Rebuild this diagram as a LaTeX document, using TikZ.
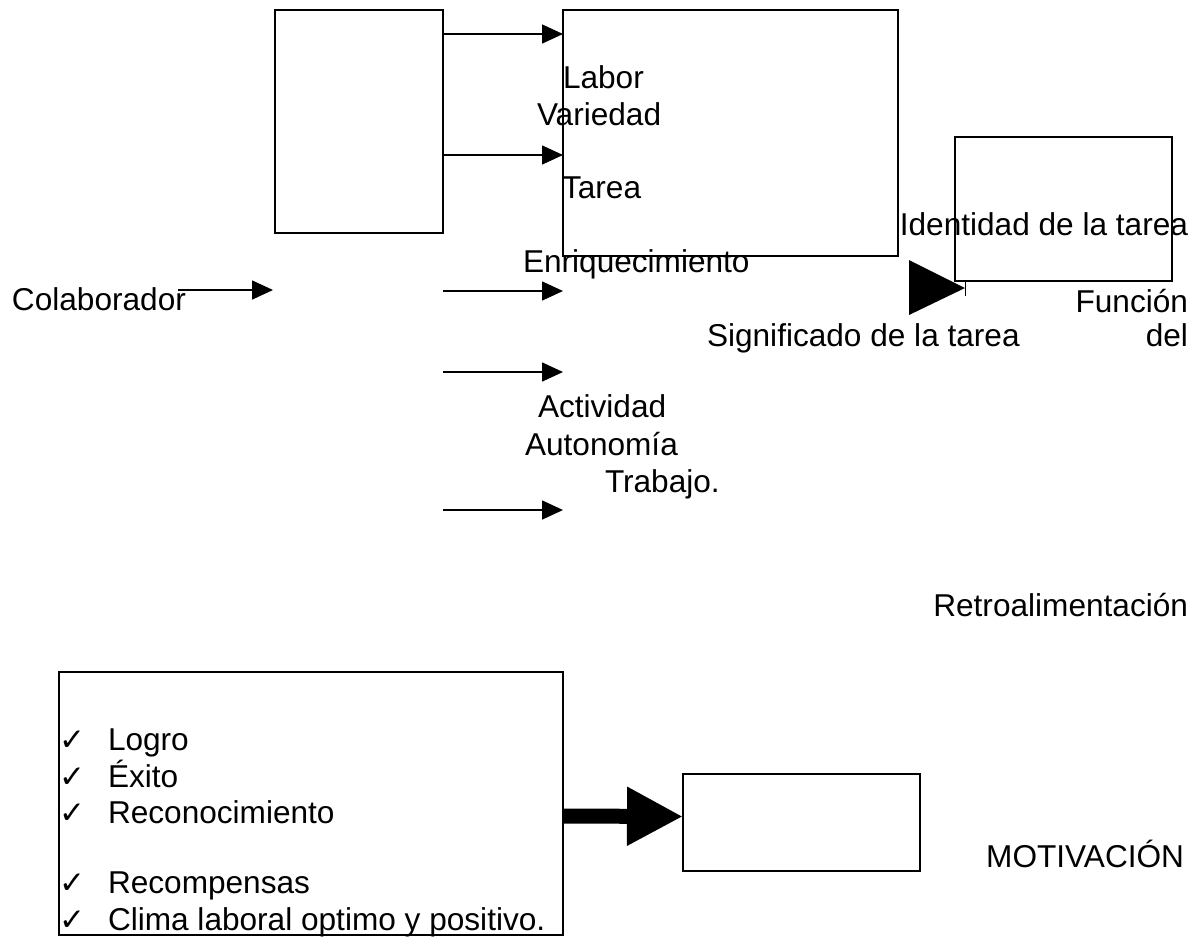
\documentclass[tikz,border=0pt]{standalone}
\usepackage{fontspec}
\setmainfont{Liberation Sans}
\newfontfamily\symfont{DejaVu Sans}
\usetikzlibrary{arrows.meta}
\begin{document}
\begin{tikzpicture}[x=1pt,y=-1pt,
  box/.style={draw,line width=2pt,rectangle,anchor=north west,inner sep=0pt,outer sep=0pt},
  lbl/.style={inner sep=0pt,outer sep=0pt,font=\fontsize{31.6}{36}\selectfont},
  arr/.style={line width=1.6pt,-{Triangle[length=21pt,width=19pt]}},
  bigarr/.style={line width=15pt,-{Triangle[length=56pt,width=55pt]}},
  tick/.style={inner sep=0pt,outer sep=0pt,font=\symfont\fontsize{31}{36}\selectfont}]
% canvas
\path[use as bounding box,fill=white] (0,0) rectangle (1199,938);

% boxes
\node[box,minimum width=168pt,minimum height=223pt] (boxA) at (275,10) {};
\node[box,minimum width=335pt,minimum height=246pt] (boxB) at (563,10) {};
\node[box,minimum width=217pt,minimum height=144pt] (boxC) at (955,137) {};
\node[box,minimum width=504pt,minimum height=263pt] (boxD) at (59,672) {};
\node[box,minimum width=237pt,minimum height=97pt] (boxE) at (683,774) {};

% free arrow ends
\coordinate (c0s) at (178,290);
\coordinate (c0e) at (273,290);
\coordinate (c1s) at (443,291);
\coordinate (c1e) at (563,291);
\coordinate (c2s) at (443,372);
\coordinate (c2e) at (563,372);
\coordinate (c3s) at (443,510);
\coordinate (c3e) at (563,510);

% connectors between the upper boxes
\draw[arr] (boxA.east |- 0,34) -- (boxB.west |- 0,34);
\draw[arr] (boxA.east |- 0,155) -- (boxB.west |- 0,155);
\draw[arr] (c0s) -- (c0e);
\draw[arr] (c1s) -- (c1e);
\draw[arr] (c2s) -- (c2e);
\draw[arr] (c3s) -- (c3e);

% large solid triangle pointing at the corner of boxC
\coordinate (tip) at (965,288);
\fill (909,260) -- (909,315) -- (tip) -- cycle;
\draw[line width=0.8pt] (965,280) -- (965,296);

% thick arrow from the list box to the motivation box
\draw[bigarr] (boxD.east |- 0,816) -- ([yshift=6pt]boxE.west);

% labels
\node[lbl,anchor=base west] (tLabor) at (563,88) {Labor};
\node[lbl,anchor=base west] (tVar) at (537,125) {Variedad};
\node[lbl,anchor=base west] (tTarea) at (562,198) {Tarea};
\node[lbl,anchor=base west] (tEnr) at (523,272) {Enriquecimiento};
\node[lbl,anchor=base west] (tCol) at (12,310) {Colaborador};
\node[lbl,anchor=base east] (tIdent) at (1188,235) {Identidad de la tarea};
\node[lbl,anchor=base east] (tFunc) at (1188,312) {Función};
\node[lbl,anchor=base west] (tSig) at (707,346) {Significado de la tarea};
\node[lbl,anchor=base east] (tDel) at (1188,346) {del};
\node[lbl,anchor=base west] (tAct) at (538,417) {Actividad};
\node[lbl,anchor=base west] (tAut) at (525,455) {Autonomía};
\node[lbl,anchor=base west] (tTrab) at (605,492) {Trabajo.};
\node[lbl,anchor=base east] (tRetro) at (1188,616) {Retroalimentación};
\node[lbl,anchor=base east] (tMot) at (1184,867) {MOTIVACIÓN};

% check list inside boxD
\foreach \y/\t [count=\i] in {750/Logro,787/Éxito,823/Reconocimiento,893/Recompensas,930/Clima laboral optimo y positivo.}{
  \node[tick,anchor=base west] (chk\i) at (59,\y) {✓};
  \node[lbl,anchor=base west] (item\i) at (108,\y) {\t};
}
\end{tikzpicture}
\end{document}
